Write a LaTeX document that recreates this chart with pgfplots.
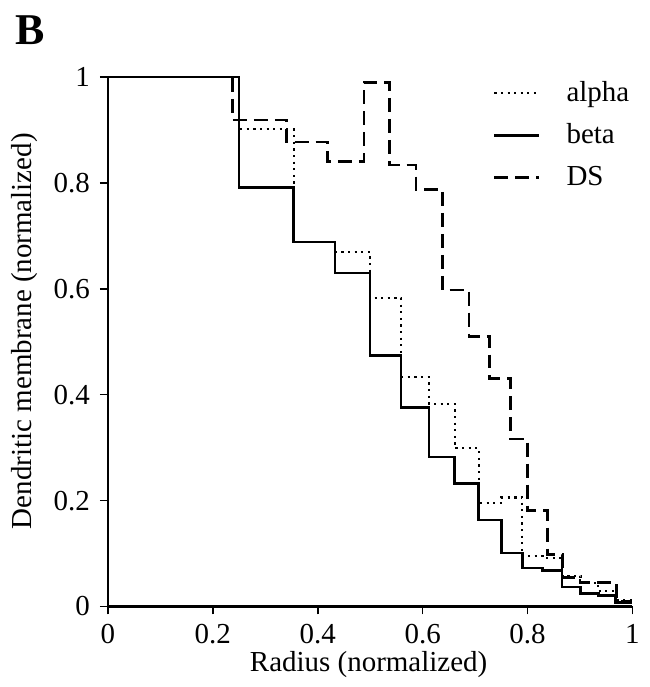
\documentclass[border=0pt]{standalone}
\usepackage{pgfplots}
\pgfplotsset{compat=1.18}
\usetikzlibrary{calc}
\usepackage{fontspec}
\setmainfont{Liberation Serif}

\begin{document}
\fontsize{14.5}{17}\selectfont
\begin{tikzpicture}
\begin{axis}[
    scale only axis,
    width=262.5pt, height=265pt,
    xmin=0, xmax=1, ymin=0, ymax=1,
    clip=false,
    axis lines=left,
    axis line style={-, line width=1.1pt},
    tick align=outside,
    major tick length=4pt,
    tick style={black, line width=0.8pt},
    xtick={0,0.2,0.4,0.6,0.8,1},
    xticklabels={0,0.2,0.4,0.6,0.8,1},
    ytick={0,0.2,0.4,0.6,0.8,1},
    yticklabels={0,0.2,0.4,0.6,0.8,1},
    xlabel={Radius (normalized)},
    ylabel={Dendritic membrane (normalized)},
    every axis x label/.style={at={(axis description cs:0.497,-0.109)}, anchor=center},
    every axis y label/.style={at={(axis description cs:-0.158,0.52)}, anchor=center, rotate=90},
    legend style={at={(axis description cs:0.722,1.008)}, anchor=north west,
        draw=none, fill=none, row sep=5pt,
        /tikz/every odd column/.append style={column sep=11pt}},
    legend cell align=left,
    legend image code/.code={\draw[#1] (0pt,0pt) -- (22.5pt,0pt);},
]
% alpha
\addplot[black, line width=1.1pt, dash pattern=on 1.1pt off 2.2pt, const plot] coordinates {
(0,1)(0.25,0.901)(0.354,0.688)(0.433,0.669)(0.5,0.582)(0.559,0.433)(0.612,0.383)
(0.661,0.299)(0.707,0.196)(0.75,0.206)(0.79,0.095)(0.829,0.092)(0.866,0.057)
(0.901,0.045)(0.935,0.029)(0.968,0.013)(1,0.013)};
\addlegendentry{alpha}
% beta
\addplot[black, line width=1.3pt, const plot] coordinates {
(0,1)(0.25,0.791)(0.354,0.688)(0.433,0.630)(0.5,0.474)(0.559,0.376)(0.612,0.282)
(0.661,0.232)(0.707,0.163)(0.75,0.101)(0.79,0.073)(0.829,0.068)(0.866,0.037)
(0.901,0.025)(0.935,0.021)(0.968,0.007)(1,0.007)};
\addlegendentry{beta}
% DS
\addplot[black, line width=1.3pt, dash pattern=on 7pt off 3.5pt, const plot] coordinates {
(0,1)(0.238,0.919)(0.34,0.877)(0.419,0.840)(0.488,0.99)(0.537,0.834)(0.587,0.788)
(0.638,0.598)(0.688,0.510)(0.728,0.430)(0.768,0.316)(0.80,0.181)(0.838,0.098)
(0.867,0.055)(0.90,0.045)(0.935,0.045)(0.97,0.01)(1,0.01)};
\addlegendentry{DS}
\coordinate (O) at (rel axis cs:0,0);
\end{axis}
\node[font=\fontsize{22}{26}\selectfont\bfseries] at ($(O)+(-39pt,288.5pt)$) {B};
\path (O) ++(-54pt,-40pt) rectangle ++(322pt,343.5pt);
\end{tikzpicture}
\end{document}
